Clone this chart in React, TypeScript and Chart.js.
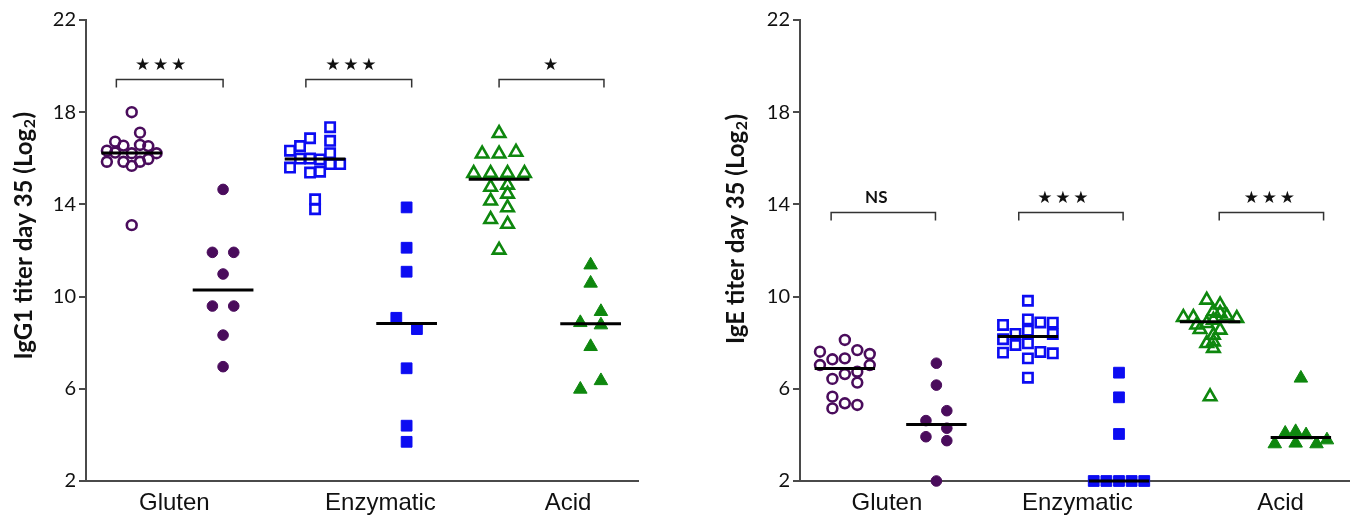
import React, { useEffect, useRef } from 'react';
import { Chart, registerables } from 'chart.js';

Chart.register(...registerables);

// ---------------- DATA ----------------
const categories = ['Gluten', 'Enzymatic', 'Acid'];

// IgG1 (left panel)
const igg1GlutenOpen = [18.0, 17.11, 16.72, 16.55, 16.58, 16.53, 16.33, 16.25, 16.22, 16.22, 15.85, 15.85, 15.85, 15.97, 15.67, 13.1];
const igg1GlutenOpenSlots = [0, 1, -2, -1, 1, 2, -3, -2, 0, 3, -3, -1, 1, 2, 0, 0];
const igg1GlutenFilled = [14.65, 11.92, 11.92, 10.98, 9.59, 9.59, 8.33, 6.96];
const igg1GlutenFilledSlots = [0, -1, 1, 0, -1, 1, 0, 0];
const igg1EnzOpen = [17.35, 16.76, 16.87, 16.53, 16.33, 16.22, 15.99, 15.99, 15.95, 15.6, 15.38, 15.42, 15.75, 15.75, 14.22, 13.79];
const igg1EnzOpenSlots = [1.5, 1.5, -0.5, -1.5, -2.5, 1.5, -1.5, -0.5, 0.5, -2.5, -0.5, 0.5, 1.5, 2.5, 0, 0];
const igg1EnzFilled = [13.87, 12.12, 11.08, 9.08, 8.59, 6.89, 4.4, 3.7];
const igg1EnzFilledSlots = [0, 0, 0, -1, 1, 0, 0, 0];
const igg1AcidOpen = [17.08, 16.19, 16.19, 16.27, 15.35, 15.35, 15.35, 15.35, 14.75, 14.84, 14.45, 14.15, 13.86, 13.35, 13.14, 12.02];
const igg1AcidOpenSlots = [0, -2, 0, 2, -3, -1, 1, 3, -1, 1, 1, -1, 1, -1, 1, 0];
const igg1AcidFilled = [11.37, 10.58, 9.35, 8.87, 8.77, 7.83, 6.35, 5.98];
const igg1AcidFilledSlots = [0, 0, 1, -1, 1, 0, 1, -1];

// IgE (right panel)
const igeGlutenOpen = [8.12, 7.61, 7.68, 7.51, 7.28, 7.32, 7.03, 7.03, 6.74, 6.64, 6.43, 6.27, 5.66, 5.37, 5.3, 5.15];
const igeGlutenOpenSlots = [0, -2, 1, 2, -1, 0, -2, 2, 1, 0, -1, 1, -1, 0, 1, -1];
const igeGlutenFilled = [7.11, 6.16, 5.05, 4.62, 4.29, 3.92, 3.75, 2.0];
const igeGlutenFilledSlots = [0, 0, 1, -1, 1, -1, 1, 0];
const igeEnzOpen = [9.82, 9.01, 8.88, 8.87, 8.77, 8.52, 8.38, 8.38, 8.15, 7.9, 7.97, 7.57, 7.6, 7.54, 7.32, 6.48];
const igeEnzOpenSlots = [0, 0, 1, 2, -2, 0, -1, 2, -2, -1, 0, -2, 1, 2, 0, 0];
const igeEnzFilled = [6.7, 5.63, 4.04, 2, 2, 2, 2, 2];
const igeEnzFilledSlots = [0, 0, 0, -2, -1, 0, 1, 2];
const igeAcidOpen = [9.85, 9.64, 9.35, 9.28, 9.1, 9.1, 9.16, 9.06, 8.98, 8.77, 8.84, 8.55, 8.58, 8.33, 8.04, 7.97, 7.76, 5.66];
const igeAcidOpenSlots = [-0.5, 1.5, 0.5, 1.5, -4, -2.5, 2.5, 4, 0.5, -2, -0.5, 1.5, -1.5, 0.5, 0.5, -0.5, 0.5, 0];
const igeAcidFilled = [6.46, 4.07, 4.14, 4.0, 3.61, 3.64, 3.61, 3.78];
const igeAcidFilledSlots = [0, -1.5, -0.5, 0.5, -2.5, -0.5, 1.5, 2.5];

const yTicks = [2, 6, 10, 14, 18, 22];
const igg1Significance = ['★★★', '★★★', '★'];
const igeSignificance = ['NS', '★★★', '★★★'];

// ---------------- STYLE ----------------
const PURPLE = '#4a0c5c';
const BLUE = '#0c0cf2';
const GREEN = '#0e870e';
const AXIS = '#4a4a4a';

type Group = {
  values: number[];
  slots: number[];
  center: number;
  spread: number;
  shape: string;
  filled: boolean;
  color: string;
  radius: number;
};

function median(a: number[]) {
  const s = [...a].sort((p, q) => p - q);
  const n = s.length;
  return n % 2 ? s[(n - 1) / 2] : (s[n / 2 - 1] + s[n / 2]) / 2;
}

function groupsFor(
  vals: number[][],
  slots: number[][],
  centers: number[],
  spreads: number[]
): Group[] {
  const shapes = ['circle', 'circle', 'rect', 'rect', 'triangle', 'triangle'];
  const colors = [PURPLE, PURPLE, BLUE, BLUE, GREEN, GREEN];
  const radii = [4.9, 5.3, 6.6, 7.6, 7.2, 7.8];
  return vals.map((v, i) => ({
    values: v,
    slots: slots[i],
    center: centers[i],
    spread: spreads[i],
    shape: shapes[i],
    filled: i % 2 === 1,
    color: colors[i],
    radius: radii[i],
  }));
}

const leftGroups = groupsFor(
  [igg1GlutenOpen, igg1GlutenFilled, igg1EnzOpen, igg1EnzFilled, igg1AcidOpen, igg1AcidFilled],
  [igg1GlutenOpenSlots, igg1GlutenFilledSlots, igg1EnzOpenSlots, igg1EnzFilledSlots, igg1AcidOpenSlots, igg1AcidFilledSlots],
  [0.497, 1.49, 2.49, 3.485, 4.49, 5.485],
  [0.09, 0.116, 0.109, 0.112, 0.092, 0.112]
);

const rightGroups = groupsFor(
  [igeGlutenOpen, igeGlutenFilled, igeEnzOpen, igeEnzFilled, igeAcidOpen, igeAcidFilled],
  [igeGlutenOpenSlots, igeGlutenFilledSlots, igeEnzOpenSlots, igeEnzFilledSlots, igeAcidOpenSlots, igeAcidFilledSlots],
  [0.49, 1.49, 2.49, 3.485, 4.48, 5.472],
  [0.136, 0.114, 0.136, 0.138, 0.073, 0.114]
);

function buildDatasets(groups: Group[]) {
  const ds: any[] = [];
  groups.forEach((g) => {
    ds.push({
      type: 'scatter',
      data: g.values.map((v, i) => ({ x: g.center + g.slots[i] * g.spread, y: v })),
      pointStyle: g.shape,
      pointRadius: g.radius,
      pointHoverRadius: g.radius,
      pointBackgroundColor: g.filled ? g.color : 'rgba(0,0,0,0)',
      pointBorderColor: g.color,
      pointBorderWidth: g.filled ? 1 : 2.6,
      showLine: false,
      clip: false,
      order: 2,
    });
    const m = median(g.values);
    ds.push({
      type: 'line',
      data: [
        { x: g.center - 0.33, y: m },
        { x: g.center + 0.33, y: m },
      ],
      borderColor: '#000',
      borderWidth: 3,
      pointRadius: 0,
      clip: false,
      order: 1,
    });
  });
  return ds;
}

type PanelCfg = {
  groups: Group[];
  labelPos: number[];
  yAxisWidth: number;
  padRight: number;
  titleMain: string;
  titleX: number;
  titleTop: number;
  brackets: number[][];
  starShift: number[];
  bracketLevel: number;
  sig: string[];
};

function makePlugin(cfg: PanelCfg) {
  return {
    id: 'annot',
    afterDraw(chart: any) {
      const ctx = chart.ctx as CanvasRenderingContext2D;
      const xs = chart.scales.x;
      const ys = chart.scales.y;
      // y-axis title with subscript
      ctx.save();
      ctx.font = 'bold 24px Lato';
      const w1 = ctx.measureText(cfg.titleMain).width;
      ctx.font = 'bold 16px Lato';
      const w2 = ctx.measureText('2').width;
      ctx.font = 'bold 24px Lato';
      const w3 = ctx.measureText(')').width;
      const W = w1 + w2 + w3;
      ctx.translate(cfg.titleX, cfg.titleTop + W);
      ctx.rotate(-Math.PI / 2);
      ctx.fillStyle = '#111';
      ctx.textBaseline = 'middle';
      ctx.textAlign = 'left';
      ctx.fillText(cfg.titleMain, 0, 0);
      ctx.font = 'bold 16px Lato';
      ctx.fillText('2', w1 + 0.5, 6);
      ctx.font = 'bold 24px Lato';
      ctx.fillText(')', w1 + w2 + 1, 0);
      ctx.restore();

      // significance brackets
      ctx.save();
      const yb = Math.round(ys.getPixelForValue(cfg.bracketLevel)) + 0.5;
      cfg.brackets.forEach((b, i) => {
        const x1 = xs.getPixelForValue(b[0]);
        const x2 = xs.getPixelForValue(b[1]);
        ctx.strokeStyle = '#333';
        ctx.lineWidth = 1.5;
        ctx.beginPath();
        ctx.moveTo(x1, yb + 8);
        ctx.lineTo(x1, yb);
        ctx.lineTo(x2, yb);
        ctx.lineTo(x2, yb + 8);
        ctx.stroke();
        const cx = (x1 + x2) / 2 + cfg.starShift[i];
        const t = cfg.sig[i];
        ctx.fillStyle = '#111';
        ctx.textAlign = 'center';
        ctx.textBaseline = 'middle';
        if (t === 'NS') {
          ctx.font = 'bold 17px Lato';
          ctx.fillText(t, cx, yb - 15);
        } else {
          ctx.font = '17px "DejaVu Sans"';
          const n = t.length;
          for (let k = 0; k < n; k++) {
            ctx.fillText('★', cx + (k - (n - 1) / 2) * 18, yb - 14);
          }
        }
      });
      ctx.restore();
    },
  };
}

function makeConfig(cfg: PanelCfg): any {
  return {
    type: 'scatter',
    data: { datasets: buildDatasets(cfg.groups) },
    options: {
      responsive: false,
      animation: false,
      devicePixelRatio: 1,
      layout: { padding: { top: 20, right: cfg.padRight, left: 0, bottom: 0 } },
      plugins: { legend: { display: false }, tooltip: { enabled: false } },
      scales: {
        x: {
          type: 'linear',
          min: 0,
          max: 6,
          grid: { display: false, drawTicks: false },
          border: { display: true, color: AXIS, width: 2 },
          ticks: {
            autoSkip: false,
            maxRotation: 0,
            minRotation: 0,
            padding: 8,
            color: '#111',
            font: { family: '"Liberation Sans", Arial, sans-serif', size: 24 },
            callback: (_v: any, i: number) => categories[i],
          },
          afterBuildTicks: (s: any) => {
            s.ticks = cfg.labelPos.map((v) => ({ value: v }));
          },
          afterFit: (s: any) => {
            s.height = 38;
          },
        },
        y: {
          type: 'linear',
          min: 2,
          max: 22,
          afterBuildTicks: (s: any) => {
            s.ticks = yTicks.map((v) => ({ value: v }));
          },
          ticks: {
            padding: 3,
            color: '#111',
            font: { family: 'Lato', size: 20 },
          },
          grid: { drawOnChartArea: false, drawTicks: true, tickLength: 7, color: AXIS, lineWidth: 2 },
          border: { display: true, color: AXIS, width: 2 },
          afterFit: (s: any) => {
            s.width = cfg.yAxisWidth;
          },
        },
      },
    },
    plugins: [makePlugin(cfg)],
  };
}

const leftCfg: PanelCfg = {
  groups: leftGroups,
  labelPos: [0.96, 3.2, 5.24],
  yAxisWidth: 86,
  padRight: 42,
  titleMain: 'IgG1 titer day 35 (Log',
  titleX: 24,
  titleTop: 113,
  brackets: [
    [0.33, 1.49],
    [2.39, 3.54],
    [4.49, 5.63],
  ],
  starShift: [-9, -8, -1],
  bracketLevel: 19.44,
  sig: igg1Significance,
};

const rightCfg: PanelCfg = {
  groups: rightGroups,
  labelPos: [0.95, 3.03, 5.25],
  yAxisWidth: 120,
  padRight: 7,
  titleMain: 'IgE titer day 35 (Log',
  titleX: 56,
  titleTop: 115,
  brackets: [
    [0.34, 1.48],
    [2.39, 3.53],
    [4.58, 5.72],
  ],
  starShift: [-7, -8, -2],
  bracketLevel: 13.67,
  sig: igeSignificance,
};

export default function App() {
  const leftRef = useRef<HTMLCanvasElement | null>(null);
  const rightRef = useRef<HTMLCanvasElement | null>(null);

  useEffect(() => {
    const c1 = new Chart(leftRef.current as HTMLCanvasElement, makeConfig(leftCfg));
    const c2 = new Chart(rightRef.current as HTMLCanvasElement, makeConfig(rightCfg));
    return () => {
      c1.destroy();
      c2.destroy();
    };
  }, []);

  return (
    <div style={{ position: 'absolute', left: 0, top: 0, width: 1359, height: 519, background: '#fff' }}>
      <canvas
        ref={leftRef}
        width={680}
        height={519}
        style={{ position: 'absolute', left: 0, top: 0, width: 680, height: 519 }}
      />
      <canvas
        ref={rightRef}
        width={679}
        height={519}
        style={{ position: 'absolute', left: 680, top: 0, width: 679, height: 519 }}
      />
    </div>
  );
}
